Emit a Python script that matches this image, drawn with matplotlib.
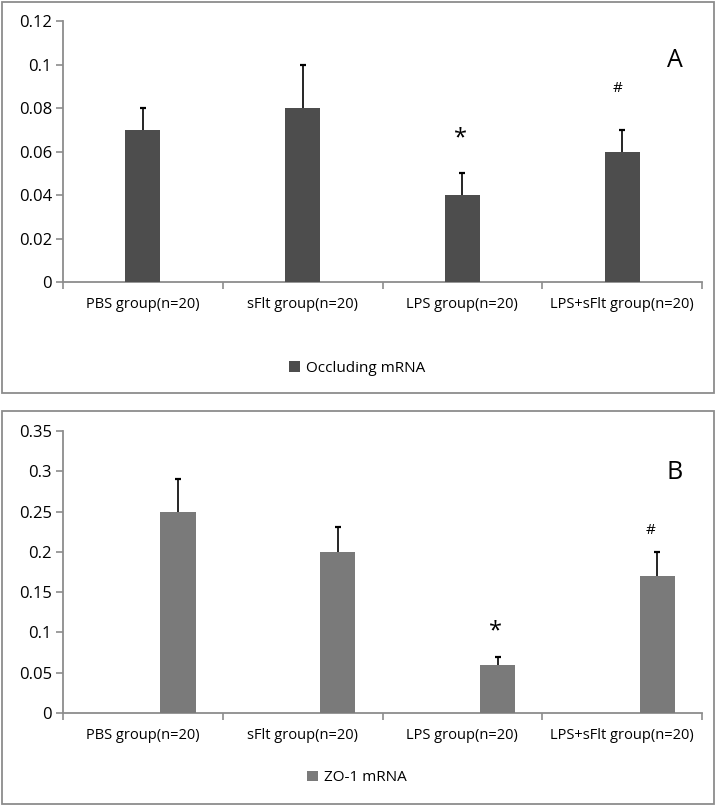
import matplotlib.pyplot as plt
from matplotlib.patches import Rectangle
import numpy as np

plt.rcParams['font.family'] = ['Open Sans', 'DejaVu Sans']

groups = ["PBS group(n=20)", "sFlt group(n=20)", "LPS group(n=20)", "LPS+sFlt group(n=20)"]

occludin = [0.07, 0.08, 0.04, 0.06]
occludin_err = [0.01, 0.02, 0.01, 0.01]

zo1 = [0.25, 0.20, 0.06, 0.17]
zo1_err = [0.04, 0.031, 0.01, 0.03]

fig = plt.figure(figsize=(7.16, 8.06), dpi=100)
W, H = 716, 806

# panel frames
for (y0, y1) in [(2, 393), (411, 804)]:
    fig.add_artist(Rectangle((2 / W, 1 - y1 / H), 712 / W, (y1 - y0) / H,
                             transform=fig.transFigure, fill=False,
                             edgecolor="#8c8c8c", linewidth=1.3))

gray = "#8c8c8c"


def panel(rect, vals, errs, color, offset, ymax, step, label, letter, letter_y,
          star_y, hash_y, hash_dx, leg_y):
    ax = fig.add_axes(rect)
    x = np.arange(len(groups)) + offset
    vals = np.array(vals)
    errs = np.array(errs)
    ax.bar(x, vals, width=0.22, color=color, label=label, zorder=3)
    # upper error only, cap on top
    ax.vlines(x, vals, vals + errs, color="black", linewidth=1.2, zorder=2)
    ax.plot(x, vals + errs, linestyle="none", marker="_", markersize=5,
            markeredgewidth=1.6, color="black", zorder=2)
    ax.set_xlim(-0.5, 3.5)
    ax.set_ylim(0, ymax)
    ticks = np.arange(0, ymax + step / 2, step)
    ax.set_yticks(ticks)
    ax.set_yticklabels(["0" if t == 0 else ("%.2f" % t).rstrip("0") for t in ticks],
                       fontsize=12)
    ax.set_xticks(np.arange(len(groups)))
    ax.set_xticklabels(groups, fontsize=10.5)
    ax.set_xticks([-0.5, 0.5, 1.5, 2.5, 3.5], minor=True)
    ax.tick_params(axis="x", which="major", length=0, pad=11)
    ax.tick_params(axis="x", which="minor", length=5, color=gray, width=1.2)
    ax.tick_params(axis="y", length=5, color=gray, width=1.2, pad=3)
    for s in ["top", "right"]:
        ax.spines[s].set_visible(False)
    for s in ["left", "bottom"]:
        ax.spines[s].set_color(gray)
        ax.spines[s].set_linewidth(1.3)
    ax.text(3.33, letter_y, letter, fontsize=18, ha="center", va="center")
    ax.text(2 + offset - 0.01, star_y, "*", fontsize=17, ha="center", va="center")
    ax.text(3 + offset + hash_dx, hash_y, "#", fontsize=11, ha="center", va="center")
    ax.legend(loc="center", bbox_to_anchor=(0.46, leg_y), frameon=False,
              fontsize=11, handlelength=0.7, handleheight=0.7, handletextpad=0.4)
    return ax


panel([63 / W, 1 - 282 / H, 639 / W, 261 / H], occludin, occludin_err, "#4d4d4d", 0.0,
      0.12, 0.02, "Occluding mRNA", "A", 0.102, 0.066, 0.089, -0.03, -0.33)
panel([63 / W, 1 - 713 / H, 639 / W, 282 / H], zo1, zo1_err, "#7a7a7a", 0.22,
      0.35, 0.05, "ZO-1 mRNA", "B", 0.298, 0.101, 0.226, -0.04, -0.23)

fig.savefig("out.png", dpi=100)
